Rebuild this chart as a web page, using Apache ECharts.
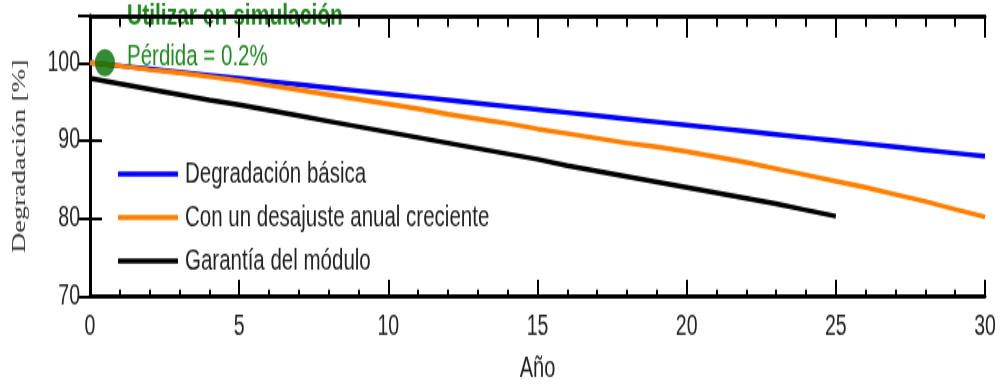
<!DOCTYPE html>
<html>
<head>
<meta charset="utf-8">
<script src="https://cdn.jsdelivr.net/npm/echarts@6/dist/echarts.min.js"></script>
<style>
html,body{margin:0;padding:0;background:#fff;overflow:hidden;}
#wrap{width:1001px;height:390px;overflow:hidden;}
#chart{width:1001px;height:269px;transform:scaleY(1.4498);transform-origin:0 0;}
</style>
</head>
<body>
<div id="wrap"><div id="chart"></div></div>
<script>
// ---- data ----
const years = [0,1,2,3,4,5,6,7,8,9,10,11,12,13,14,15,16,17,18,19,20,21,22,23,24,25,26,27,28,29,30];
const basicDegradation = [100,99.6,99.2,98.8,98.4,98.0,97.6,97.2,96.8,96.4,96.0,95.6,95.2,94.8,94.4,94.0,93.6,93.2,92.8,92.4,92.0,91.6,91.2,90.8,90.4,90.0,89.6,89.2,88.8,88.4,88.0];
const mismatchDegradation = [100,99.6,99.1,98.7,98.2,97.7,97.1,96.5,95.9,95.3,94.7,94.1,93.4,92.8,92.2,91.5,90.9,90.3,89.7,89.2,88.6,87.9,87.2,86.4,85.6,84.8,84.0,83.1,82.2,81.2,80.2];
const warrantyYears = [0,1,2,3,4,5,6,7,8,9,10,11,12,13,14,15,16,17,18,19,20,21,22,23,24,25];
const warrantyValues = [98.0,97.3,96.6,95.9,95.2,94.6,93.9,93.2,92.5,91.8,91.1,90.4,89.7,89.0,88.3,87.6,86.8,86.1,85.4,84.7,84.0,83.3,82.6,81.9,81.1,80.3];
const markerPoint = [0.5, 100];
const seriesNames = ['Degradación básica','Con un desajuste anual creciente','Garantía del módulo'];
const annotationTop = 'Utilizar en simulación';
const annotationLoss = 'Pérdida = 0.2%';
const xTitle = 'Año';
const yTitle = 'Degradación [%]';

const pair = (xs, ys) => xs.map((x, i) => [x, ys[i]]);
const FONT = '"Liberation Sans", Arial, sans-serif';
const TXT = '#222';

const chart = echarts.init(document.getElementById('chart'), null, {renderer: 'canvas'});

const baseX = {type: 'value', min: 0, max: 30, interval: 5, splitLine: {show: false}};
const baseY = {type: 'value', min: 70, max: 106, interval: 10, splitLine: {show: false}};

chart.setOption({
  animation: false,
  backgroundColor: '#fff',
  grid: {left: 90, right: 16, top: 11, bottom: 62, containLabel: false},
  legend: {
    orient: 'vertical', left: 113, top: 104.5,
    itemWidth: 60, itemHeight: 3.5, itemGap: 9,
    icon: 'rect',
    textStyle: {fontFamily: FONT, fontSize: 20.5, color: TXT, padding: [0, 0, 0, 2]},
    data: seriesNames
  },
  xAxis: [
    Object.assign({}, baseX, {
      position: 'bottom',
      name: xTitle, nameLocation: 'middle', nameGap: 39.5,
      nameTextStyle: {fontFamily: FONT, fontSize: 20, color: TXT},
      axisLine: {show: true, lineStyle: {color: '#000', width: 2.8}},
      axisTick: {show: true, inside: true, length: 11.5, lineStyle: {color: '#000', width: 2}},
      minorTick: {show: true, splitNumber: 5, length: 4.8, lineStyle: {color: '#000', width: 2}},
      axisLabel: {fontFamily: FONT, fontSize: 19.5, color: TXT, margin: 11.4}
    }),
    Object.assign({}, baseX, {
      position: 'top',
      axisLine: {show: true, lineStyle: {color: '#000', width: 2.8}},
      axisTick: {show: true, inside: true, length: 15, lineStyle: {color: '#000', width: 2}},
      minorTick: {show: true, splitNumber: 5, length: 7.5, lineStyle: {color: '#000', width: 2}},
      axisLabel: {show: false}
    })
  ],
  yAxis: [
    Object.assign({}, baseY, {
      position: 'left',
      name: yTitle, nameLocation: 'middle', nameGap: 60, nameRotate: 90,
      nameTextStyle: {fontFamily: '"Liberation Serif", "Times New Roman", serif', fontSize: 19.5, color: '#333'},
      axisLine: {show: true, lineStyle: {color: '#000', width: 3}},
      axisTick: {show: true, inside: true, length: 12, lineStyle: {color: '#000', width: 2}},
      axisLabel: {fontFamily: FONT, fontSize: 19.5, color: TXT, margin: 10,
        formatter: v => (v % 10 === 0 ? String(v) : '')}
    }),
    Object.assign({}, baseY, {
      position: 'right',
      axisLine: {show: true, lineStyle: {color: '#000', width: 3}},
      axisTick: {show: true, inside: true, length: 12, lineStyle: {color: '#000', width: 2}},
      axisLabel: {show: false}
    })
  ],
  graphic: [
    {type: 'text', left: 127, top: 1, z: -1,
      style: {text: annotationTop, fontFamily: FONT, fontSize: 21, fontWeight: 'bold', fill: '#1e8c1e'}},
    {type: 'text', left: 127, top: 29, z: 10,
      style: {text: annotationLoss, fontFamily: FONT, fontSize: 20.5, fill: '#1e8c1e'}}
  ],
  series: [
    {name: seriesNames[0], type: 'line', data: pair(years, basicDegradation), showSymbol: false,
      itemStyle: {color: '#0000ff'}, lineStyle: {color: '#0000ff', width: 3.4}},
    {name: seriesNames[1], type: 'line', data: pair(years, mismatchDegradation), showSymbol: false,
      itemStyle: {color: '#ff8000'}, lineStyle: {color: '#ff8000', width: 3.4}},
    {name: seriesNames[2], type: 'line', data: pair(warrantyYears, warrantyValues), showSymbol: false,
      itemStyle: {color: '#000000'}, lineStyle: {color: '#000000', width: 3.4}},
    {type: 'scatter', data: [markerPoint], symbol: 'circle', symbolSize: [20, 19],
      itemStyle: {color: '#006e00'}, z: 5}
  ]
});
</script>
</body>
</html>
